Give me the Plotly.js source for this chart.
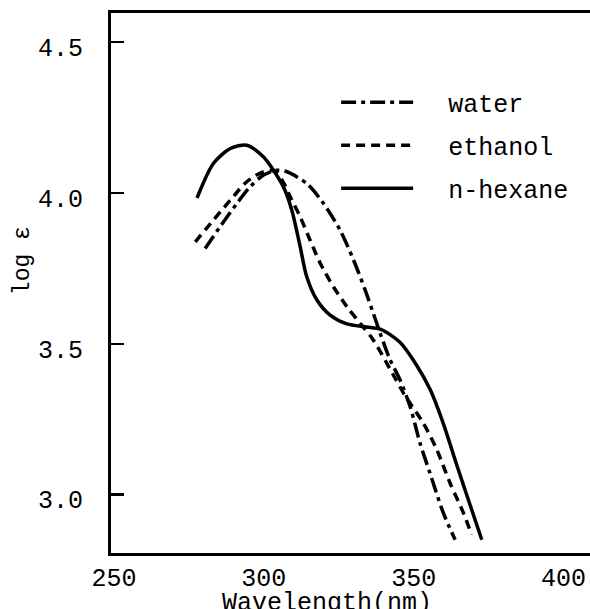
<!DOCTYPE html>
<html>
<head>
<meta charset="utf-8">
<script src="https://cdn.plot.ly/plotly-3.0.1.min.js"></script>
<style>html,body{margin:0;padding:0;background:#fff;}</style>
</head>
<body>
<div id="chart" style="width:590px;height:609px;"></div>
<script>
// Wavelength (nm) and log ε
const waterX = [280.4, 285.4, 291.0, 295.4, 299.9, 304.3, 307.7, 314.3, 319.9, 325.4, 329.9, 333.8, 336.5, 338.8, 342.1, 345.4, 348.8, 352.1, 355.4, 359.9, 363.8];
const waterY = [3.816, 3.888, 3.965, 4.020, 4.059, 4.075, 4.070, 4.031, 3.965, 3.877, 3.778, 3.678, 3.601, 3.535, 3.447, 3.381, 3.292, 3.171, 3.072, 2.939, 2.851];

const ethanolX = [277.1, 283.2, 288.8, 294.3, 299.9, 303.5, 306.5, 308.8, 312.1, 315.4, 318.8, 323.2, 327.7, 332.1, 336.5, 343.0, 347.0, 353.2, 357.7, 362.1, 366.6, 369.3];
const ethanolY = [3.838, 3.910, 3.976, 4.037, 4.070, 4.072, 4.035, 3.987, 3.921, 3.844, 3.767, 3.689, 3.623, 3.568, 3.513, 3.400, 3.330, 3.237, 3.149, 3.039, 2.939, 2.868];

const hexaneX = [277.7, 283.2, 288.8, 294.3, 299.9, 303.2, 306.5, 309.3, 312.1, 314.3, 317.7, 322.1, 327.7, 334.3, 339.0, 345.4, 350.9, 355.4, 359.9, 364.3, 368.8, 372.7];
const hexaneY = [3.983, 4.098, 4.147, 4.158, 4.119, 4.075, 4.020, 3.943, 3.822, 3.722, 3.645, 3.595, 3.566, 3.556, 3.548, 3.505, 3.430, 3.350, 3.235, 3.100, 2.966, 2.851];

const xTickVals = [250, 300, 350, 400];
const xTickText = ['250', '300', '350', '400'];
const xMarkVals = [300, 350];
const yTickVals = [3.0, 3.5, 4.0, 4.5];
const yTickText = ['3.0', '3.5', '4.0', '4.5'];

const seriesNames = ['water', 'ethanol', 'n-hexane'];

const FONT = 'Liberation Mono, DejaVu Sans Mono, monospace';
const pad = '\u00a0\u00a0';

const traces = [
  {x: waterX, y: waterY, name: pad + seriesNames[0], legendgroup: 'a',
   line: {color: '#000', width: 3.5, dash: '15px,5px,4px,5px', shape: 'spline', smoothing: 0.8}},
  {x: ethanolX, y: ethanolY, name: pad + seriesNames[1], legendgroup: 'b',
   line: {color: '#000', width: 3.5, dash: '9px,6px', shape: 'spline', smoothing: 0.8}},
  {x: hexaneX, y: hexaneY, name: pad + seriesNames[2], legendgroup: 'c',
   line: {color: '#000', width: 3.5, shape: 'spline', smoothing: 0.8}}
].map(t => Object.assign({type: 'scatter', mode: 'lines', hoverinfo: 'skip'}, t));

const layout = {
  width: 590, height: 609,
  margin: {l: 111, r: 0, t: 13, b: 56},
  paper_bgcolor: '#fff', plot_bgcolor: '#fff',
  font: {family: FONT, size: 25, color: '#000'},
  showlegend: true,
  legend: {
    x: 0.47, y: 0.877, xanchor: 'left', yanchor: 'top',
    bgcolor: 'rgba(0,0,0,0)', borderwidth: 0,
    font: {family: FONT, size: 25, color: '#000'},
    itemwidth: 72, tracegroupgap: 7.5
  },
  xaxis: {
    range: [249, 408.8], tickmode: 'array', tickvals: xTickVals, ticktext: xTickText,
    ticks: '', showline: true, linecolor: '#000', linewidth: 3, mirror: true,
    showgrid: false, zeroline: false, tickfont: {family: FONT, size: 25}
  },
  xaxis2: {
    overlaying: 'x', anchor: 'y', side: 'bottom', range: [249, 408.8],
    tickmode: 'array', tickvals: xMarkVals, ticks: 'inside', ticklen: 12, tickwidth: 2.5, tickcolor: '#000',
    showticklabels: false, showline: false, showgrid: false, zeroline: false
  },
  yaxis: {
    range: [2.807, 4.596], tickmode: 'array', tickvals: yTickVals, ticktext: yTickText,
    ticks: 'inside', ticklen: 13, tickwidth: 2.5, tickcolor: '#000',
    ticklabelstandoff: 20, ticklabelshift: 5,
    showline: true, linecolor: '#000', linewidth: 3,
    showgrid: false, zeroline: false, tickfont: {family: FONT, size: 25}
  },
  annotations: [
    {text: 'Wavelength(nm)', xref: 'x', x: 321, yref: 'paper', y: 0, yanchor: 'top', yshift: -34,
     showarrow: false, font: {family: FONT, size: 25, color: '#000'}},
    {text: 'log ε', xref: 'paper', x: -0.1837, xanchor: 'center', yref: 'y', y: 3.774, yanchor: 'middle',
     textangle: -90, showarrow: false, font: {family: FONT, size: 23, color: '#000'}}
  ]
};

Plotly.newPlot('chart', traces, layout, {displayModeBar: false, staticPlot: true});
</script>
</body>
</html>
